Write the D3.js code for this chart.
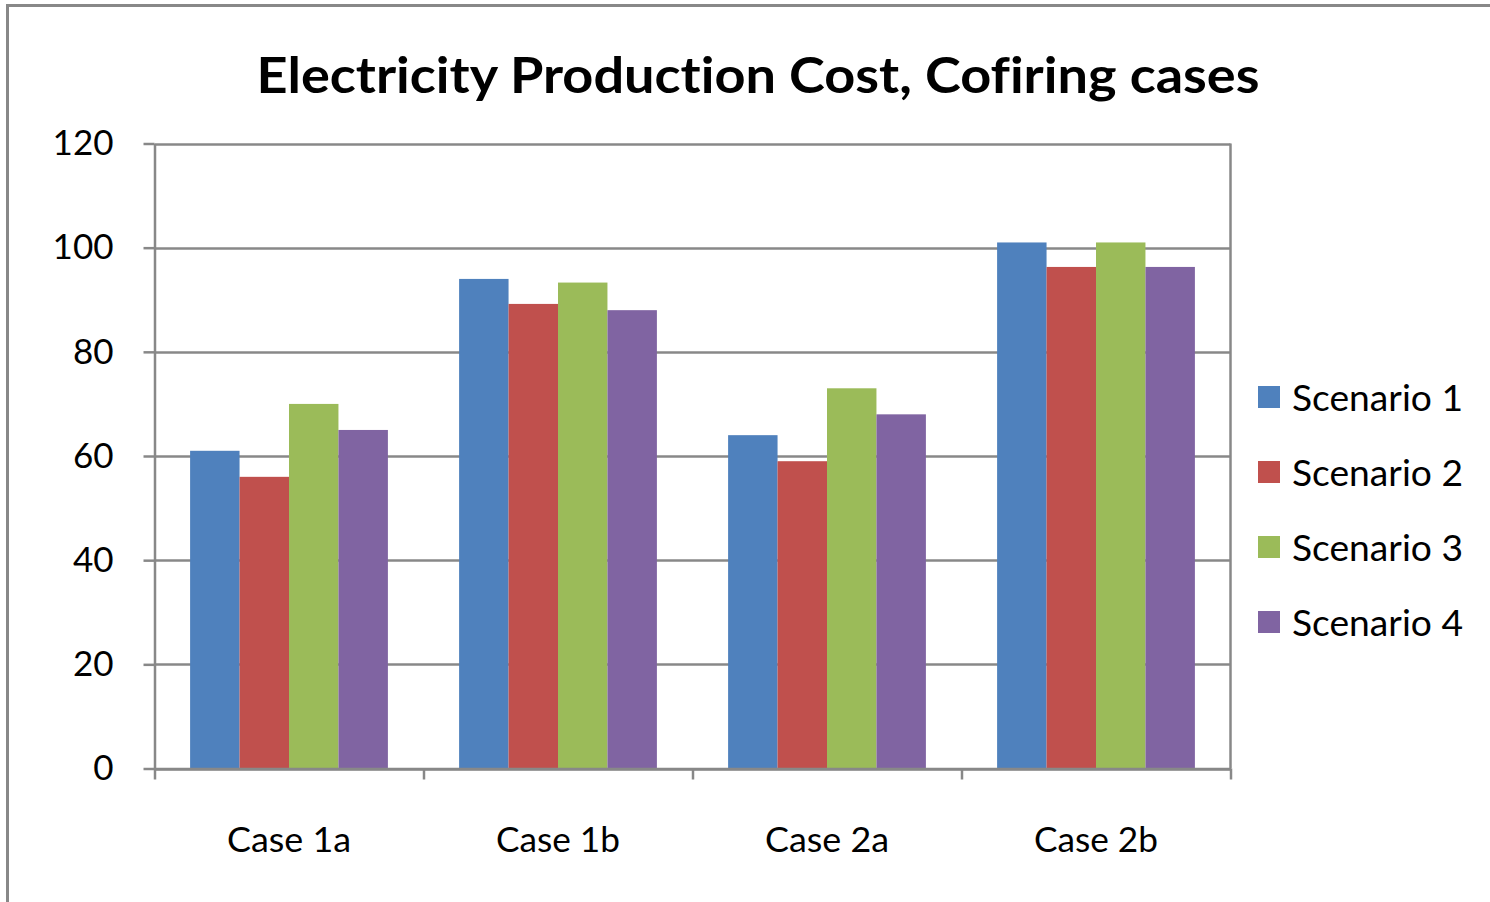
<!DOCTYPE html>
<html>
<head>
<meta charset="utf-8">
<script src="https://cdn.jsdelivr.net/npm/d3@7"></script>
<style>
  html, body { margin: 0; padding: 0; background: #fff; }
  svg { display: block; }
  text { font-family: Lato, "Open Sans", sans-serif; fill: #000; font-variant-ligatures: none; }
</style>
</head>
<body>
<svg id="chart" width="1490" height="902"></svg>
<script>
const title = "Electricity Production Cost, Cofiring cases";
const categories = ["Case 1a", "Case 1b", "Case 2a", "Case 2b"];
const seriesNames = ["Scenario 1", "Scenario 2", "Scenario 3", "Scenario 4"];
const scenario1 = [61, 94, 64, 101];
const scenario2 = [56, 89.2, 59, 96.3];
const scenario3 = [70, 93.3, 73, 101];
const scenario4 = [65, 88, 68, 96.3];
const yTicks = [0, 20, 40, 60, 80, 100, 120];
const colors = ["#4F81BD", "#C0504D", "#9BBB59", "#8064A2"];

const seriesValues = [scenario1, scenario2, scenario3, scenario4];

const svg = d3.select("#chart");
const grid = "#888888";

// outer chart border (extends past the right/bottom edges)
svg.append("rect")
  .attr("x", 7.5).attr("y", 5.5)
  .attr("width", 1520).attr("height", 920)
  .attr("fill", "#fff").attr("stroke", grid).attr("stroke-width", 3);

const plot = { left: 154.5, right: 1230.5, top: 143.5, bottom: 768.5 };

const y = d3.scaleLinear().domain([0, 120]).range([plot.bottom, plot.top]);
const x0 = d3.scaleBand().domain(categories).range([plot.left, plot.right]).paddingInner(0).paddingOuter(0);
const x1 = d3.scaleBand().domain(seriesNames).range([0, x0.bandwidth()]).paddingInner(0).paddingOuter(0.72);

// gridlines
svg.append("g").selectAll("line").data(yTicks).join("line")
  .attr("x1", plot.left).attr("x2", plot.right)
  .attr("y1", d => Math.round(y(d)) + 0.5).attr("y2", d => Math.round(y(d)) + 0.5)
  .attr("stroke", grid).attr("stroke-width", 2.5);

// right border of plot area
svg.append("line")
  .attr("x1", plot.right).attr("x2", plot.right)
  .attr("y1", plot.top).attr("y2", plot.bottom)
  .attr("stroke", grid).attr("stroke-width", 2.5);

// bars
const data = [];
categories.forEach((c, i) => {
  seriesNames.forEach((s, j) => data.push({ c, s, j, v: seriesValues[j][i] }));
});
svg.append("g").selectAll("rect").data(data).join("rect")
  .attr("x", d => x0(d.c) + x1(d.s))
  .attr("width", x1.bandwidth())
  .attr("y", d => y(d.v))
  .attr("height", d => y(0) - y(d.v))
  .attr("fill", d => colors[d.j]);

// y axis
const yAxis = d3.axisLeft(y).tickValues(yTicks).tickSize(11).tickPadding(30).tickSizeOuter(0);
const gy = svg.append("g").attr("transform", `translate(${plot.left},0)`).call(yAxis);
gy.select(".domain").attr("stroke", grid).attr("stroke-width", 2.5);
gy.selectAll(".tick line").attr("stroke", grid).attr("stroke-width", 2.5);
gy.selectAll(".tick text")
  .style("font-family", "Lato, 'Open Sans', sans-serif")
  .attr("font-size", 35).attr("fill", "#000");

// x axis: ticks at category boundaries
const xAxisScale = d3.scaleLinear().domain([0, categories.length]).range([plot.left, plot.right]);
const gx = svg.append("g").attr("transform", `translate(0,${plot.bottom})`)
  .call(d3.axisBottom(xAxisScale).tickValues(d3.range(categories.length + 1)).tickSize(11).tickFormat("").tickSizeOuter(0));
gx.select(".domain").attr("stroke", grid).attr("stroke-width", 2.5);
gx.selectAll(".tick line").attr("stroke", grid).attr("stroke-width", 2.5);

svg.append("g").selectAll("text").data(categories).join("text")
  .attr("x", d => x0(d) + x0.bandwidth() / 2)
  .attr("y", 852)
  .attr("text-anchor", "middle")
  .attr("font-size", 35)
  .attr("textLength", 124).attr("lengthAdjust", "spacingAndGlyphs")
  .text(d => d);

// title
svg.append("text")
  .attr("x", 758).attr("y", 93)
  .attr("text-anchor", "middle")
  .attr("font-size", 50).attr("font-weight", "bold")
  .attr("textLength", 1003).attr("lengthAdjust", "spacingAndGlyphs")
  .text(title);

// legend
const lg = svg.append("g").selectAll("g").data(seriesNames).join("g")
  .attr("transform", (d, i) => `translate(1258, ${386 + i * 75})`);
lg.append("rect").attr("width", 22).attr("height", 22).attr("fill", (d, i) => colors[i]);
lg.append("text").attr("x", 34).attr("y", 25)
  .attr("font-size", 36)
  .attr("textLength", 171).attr("lengthAdjust", "spacingAndGlyphs")
  .text(d => d);
</script>
</body>
</html>
